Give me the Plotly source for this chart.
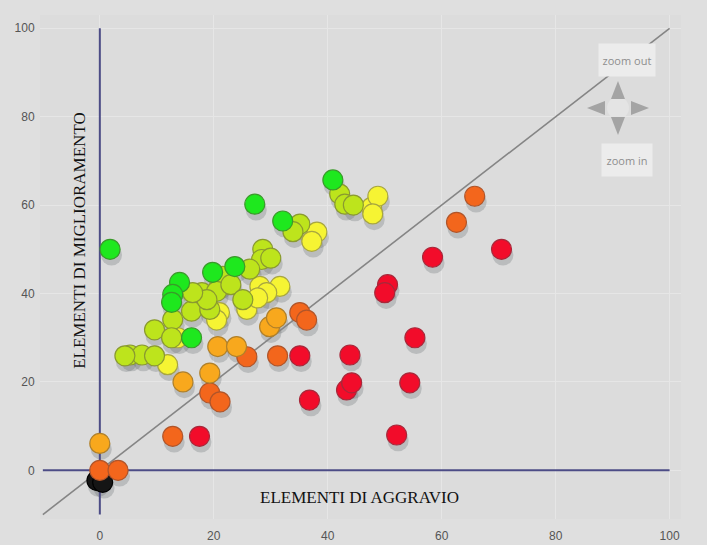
import plotly.graph_objects as go

# ---- data ----
aggravio = [1.8, 27.2, 40.9, 32.1, 14.0, 12.8, 12.6, 16.1, 19.8, 23.7,
            17.9, 16.1, 12.8, 9.6, 12.6, 5.3, 7.4, 9.6, 4.4, 19.3, 21.1, 28.6, 28.4, 26.3,
            21.6, 35.1, 33.9, 42.1, 43.0, 44.5, 20.5, 23.0, 25.1, 18.8, 16.3, 30.0,
            47.7, 48.8, 47.9, 38.1, 37.2, 28.1, 31.6, 29.3, 21.0, 20.5, 25.8, 13.7, 11.9, 27.7,
            29.8, 31.0, 20.7, 24.0, 19.3, 14.6, 0.0,
            35.1, 36.3, 25.8, 31.2, 19.3, 21.1, 12.8, 65.8, 62.6, 0.0, 3.2,
            17.5, 36.8, 43.3, 44.2, 35.1, 58.4, 70.5, 50.5, 50.0, 55.3, 54.4, 52.1, 43.9,
            -0.5, 0.5]
miglioramento = [50.0, 60.2, 65.7, 56.4, 42.5, 39.8, 38.0, 30.0, 44.8, 46.1,
                 40.2, 36.0, 34.1, 31.8, 30.0, 26.1, 26.1, 25.9, 25.9, 36.4, 42.5, 50.0, 47.7, 45.5,
                 43.9, 55.7, 54.0, 62.5, 60.2, 60.0, 40.5, 42.0, 38.6, 38.6, 40.2, 48.0,
                 59.5, 62.0, 58.0, 53.9, 51.8, 41.6, 41.6, 40.2, 35.7, 34.0, 36.4, 30.0, 23.9, 39.0,
                 32.5, 34.5, 28.0, 28.0, 22.0, 20.0, 6.1,
                 35.7, 34.0, 25.7, 25.9, 17.5, 15.5, 7.7, 62.0, 56.1, 0.0, 0.0,
                 7.7, 15.9, 18.2, 19.8, 25.9, 48.2, 50.0, 42.0, 40.2, 30.0, 19.8, 8.0, 26.1,
                 -2.3, -2.7]
classe = (["verde"] * 10 + ["giallo-verde"] * 26 + ["giallo"] * 14 + ["arancio"] * 7 +
          ["arancio scuro"] * 11 + ["rosso"] * 13 + ["nero"] * 2)

x_ticks = [0, 20, 40, 60, 80, 100]
y_ticks = [0, 20, 40, 60, 80, 100]
axis_span = [-10, 100]

colori = {
    "verde": "#1ee81e",
    "giallo-verde": "#bde41c",
    "giallo": "#f6f433",
    "arancio": "#f8a81d",
    "arancio scuro": "#f3661c",
    "rosso": "#f20c2a",
    "nero": "#151515",
}
bordi = {
    "verde": "#3a9a2a",
    "giallo-verde": "#8a9a30",
    "giallo": "#a8a640",
    "arancio": "#b0802a",
    "arancio scuro": "#b0552a",
    "rosso": "#a8283a",
    "nero": "#000000",
}
ordine = ["nero", "rosso", "arancio scuro", "arancio", "giallo", "giallo-verde", "verde"]

fig = go.Figure()

# shadow layer
fig.add_trace(go.Scatter(
    x=[v + 0.25 for v in aggravio], y=[v - 1.3 for v in miglioramento],
    mode="markers", hoverinfo="skip", showlegend=False,
    marker=dict(size=21, color="rgba(90,95,100,0.26)", line=dict(width=0)),
))

# diagonal reference line and axes
fig.add_trace(go.Scatter(x=axis_span, y=axis_span, mode="lines",
                         line=dict(color="#858585", width=1.6), hoverinfo="skip", showlegend=False))
fig.add_trace(go.Scatter(x=axis_span, y=[0, 0], mode="lines",
                         line=dict(color="#4c4c86", width=2), hoverinfo="skip", showlegend=False))
fig.add_trace(go.Scatter(x=[0, 0], y=axis_span, mode="lines",
                         line=dict(color="#4c4c86", width=2), hoverinfo="skip", showlegend=False))

for c in ordine:
    xs = [a for a, k in zip(aggravio, classe) if k == c]
    ys = [m for m, k in zip(miglioramento, classe) if k == c]
    fig.add_trace(go.Scatter(
        x=xs, y=ys, mode="markers", name=c, showlegend=False,
        marker=dict(size=20, color=colori[c], line=dict(width=1.2, color=bordi[c])),
    ))

serif = "Liberation Serif, Times New Roman, serif"
fig.add_annotation(x=-3.6, y=52, xref="x", yref="y", text="ELEMENTI DI MIGLIORAMENTO",
                   textangle=-90, showarrow=False, font=dict(family=serif, size=17, color="#111"))
fig.add_annotation(x=45.6, y=-6.1, xref="x", yref="y", text="ELEMENTI DI AGGRAVIO",
                   showarrow=False, font=dict(family=serif, size=17, color="#111"))

# ---- zoom controls (decoration, placed in paper space) ----
L, R, T, B = 40, 26, 15, 26
W, H = 707, 545
PW, PH = W - L - R, H - T - B


def px(xp):
    return (xp - L) / PW


def py(yp):
    return (H - B - yp) / PH


ctrl_font = dict(family="Open Sans, Arial, sans-serif", size=11, color="#8e8e8e")
fig.add_annotation(x=px(627), y=py(60), xref="paper", yref="paper", text="zoom out", showarrow=False,
                   xanchor="center", yanchor="middle",
                   font=ctrl_font, bgcolor="#ececec", width=54, height=30)
fig.add_annotation(x=px(627), y=py(160), xref="paper", yref="paper", text="zoom in", showarrow=False,
                   xanchor="center", yanchor="middle",
                   font=ctrl_font, bgcolor="#ececec", width=48, height=30)
cx, cy = 618, 108
fig.add_shape(type="circle", xref="paper", yref="paper",
              x0=px(cx - 11), x1=px(cx + 11), y0=py(cy + 11), y1=py(cy - 11),
              fillcolor="#e4e4e4", line=dict(width=0))
tri = [
    [(cx, cy - 27), (cx - 7, cy - 9), (cx + 7, cy - 9)],
    [(cx, cy + 27), (cx - 7, cy + 9), (cx + 7, cy + 9)],
    [(cx - 31, cy), (cx - 13, cy - 7), (cx - 13, cy + 7)],
    [(cx + 31, cy), (cx + 13, cy - 7), (cx + 13, cy + 7)],
]
for t in tri:
    path = "M " + " L ".join(f"{px(a):.4f},{py(b):.4f}" for a, b in t) + " Z"
    fig.add_shape(type="path", xref="paper", yref="paper", path=path,
                  fillcolor="#a4a4a4", line=dict(width=0))

tick_font = dict(family="Liberation Sans, Arial, sans-serif", size=12, color="#555555")
fig.update_xaxes(range=[-10.5, 102], tickvals=x_ticks, showgrid=True, gridcolor="#e6e6e6",
                 zeroline=False, showline=False, tickfont=tick_font, automargin=False,
                 ticks="outside", ticklen=6, tickcolor="rgba(0,0,0,0)")
fig.update_yaxes(range=[-11, 103], tickvals=y_ticks, showgrid=True, gridcolor="#e6e6e6",
                 zeroline=False, showline=False, tickfont=tick_font, automargin=False,
                 ticks="outside", ticklen=2, tickcolor="rgba(0,0,0,0)")
fig.update_layout(width=W, height=H, margin=dict(l=L, r=R, t=T, b=B, autoexpand=False),
                  paper_bgcolor="#dfdfdf", plot_bgcolor="#dcdcdc", showlegend=False)

fig.write_html("out.html", config={"displayModeBar": False},
               post_script="document.body.style.margin='0';document.body.style.overflow='hidden';")
